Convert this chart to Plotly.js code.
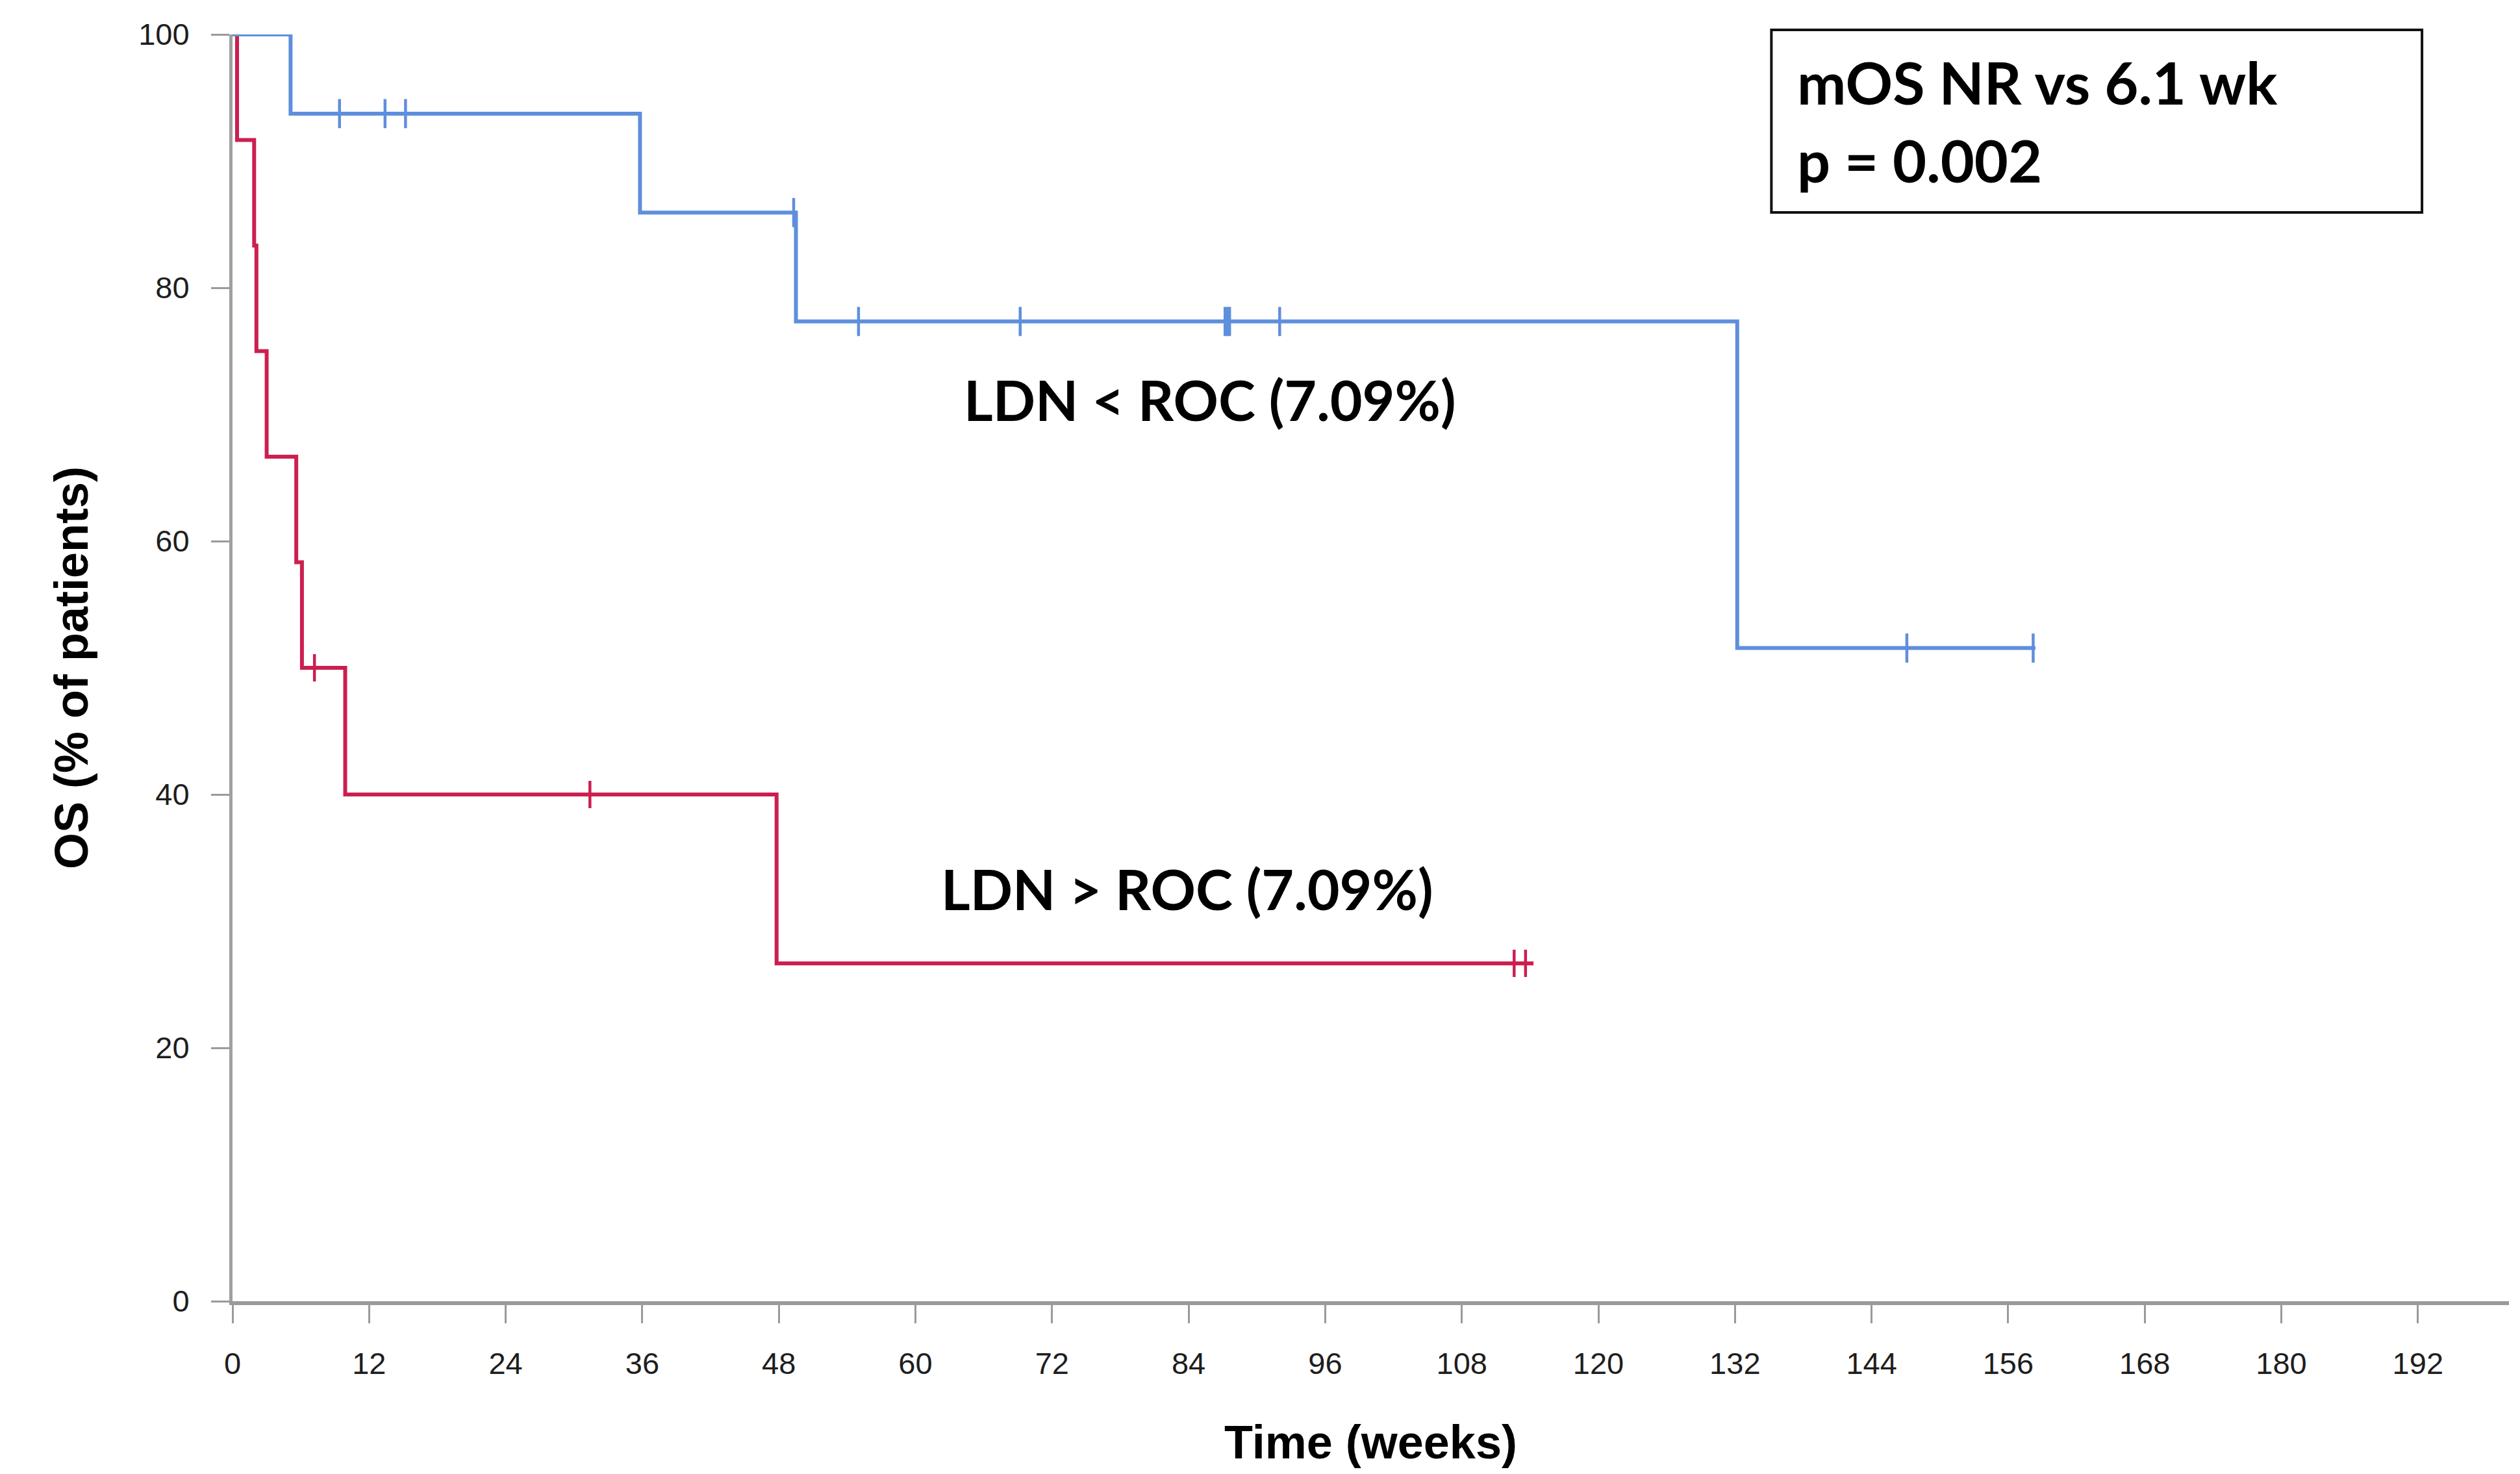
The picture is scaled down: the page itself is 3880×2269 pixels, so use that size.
<!DOCTYPE html>
<html>
<head>
<meta charset="utf-8">
<script src="https://cdn.plot.ly/plotly-3.0.1.min.js"></script>
<style>html,body{margin:0;padding:0;background:#fff;}#chart{width:3880px;height:2269px;}</style>
</head>
<body>
<div id="chart"></div>
<script>
// Kaplan-Meier step points (time in weeks, OS in %)
const blueTimes = [0, 5.1, 35.8, 49.5, 132.2, 158.4];
const blueSurv  = [100, 93.75, 85.94, 77.34, 51.56, 51.56];
const blueCensorTimes = [9.4, 13.4, 15.2, 49.3, 55.0, 69.2, 87.2, 87.4, 87.6, 92.0, 147.1, 158.2];
const blueCensorSurv  = [93.75, 93.75, 93.75, 85.94, 77.34, 77.34, 77.34, 77.34, 77.34, 77.34, 51.56, 51.56];

const redTimes = [0, 0.4, 1.9, 2.1, 3.0, 5.6, 6.1, 9.9, 47.8, 114.3];
const redSurv  = [100, 91.67, 83.33, 75.0, 66.67, 58.33, 50.0, 40.0, 26.67, 26.67];
const redCensorTimes = [7.2, 31.4, 112.6, 113.6];
const redCensorSurv  = [50.0, 40.0, 26.67, 26.67];

const xTickVals = [0, 12, 24, 36, 48, 60, 72, 84, 96, 108, 120, 132, 144, 156, 168, 180, 192];
const yTickVals = [0, 20, 40, 60, 80, 100];

const groupLabels = ['LDN < ROC (7.09%)', 'LDN > ROC (7.09%)'];
const statLines = ['mOS NR vs 6.1 wk', 'p = 0.002'];

const blueColor = '#5f8fdc';
const redColor = '#cc1f4f';

const traces = [
  {x: redTimes, y: redSurv, type: 'scatter', mode: 'lines', line: {shape: 'hv', color: redColor, width: 6}, cliponaxis: false, hoverinfo: 'skip'},
  {x: blueTimes, y: blueSurv, type: 'scatter', mode: 'lines', line: {shape: 'hv', color: blueColor, width: 6}, cliponaxis: false, hoverinfo: 'skip'},
  {x: blueCensorTimes, y: blueCensorSurv, type: 'scatter', mode: 'markers', marker: {symbol: 'line-ns', size: 32, line: {color: blueColor, width: 4.5}}, cliponaxis: false},
  {x: redCensorTimes, y: redCensorSurv, type: 'scatter', mode: 'markers', marker: {symbol: 'line-ns', size: 30, line: {color: redColor, width: 4.5}}, cliponaxis: false}
];

const axisFont = {family: 'Liberation Sans, Arial, sans-serif', size: 47, color: '#1e1e1e'};
const titleFont = {family: 'Liberation Sans, Arial, sans-serif', size: 72, color: '#000', weight: 'bold'};
const noteFont = {family: 'Lato, Open Sans, sans-serif', size: 86, color: '#000', weight: 'bold'};
const boxFont = {family: 'Lato, Open Sans, sans-serif', size: 90, color: '#000', weight: 'bold'};

const layout = {
  width: 3880, height: 2269,
  margin: {l: 358, r: 17, t: 53, b: 266},
  paper_bgcolor: '#fff', plot_bgcolor: '#fff',
  showlegend: false,
  xaxis: {
    range: [0, 200], tickvals: xTickVals, ticktext: xTickVals.map(String),
    showgrid: false, zeroline: false, showline: true, linecolor: '#9a9a9a', linewidth: 6,
    ticks: 'outside', ticklen: 28, tickwidth: 3, tickcolor: '#9a9a9a',
    tickfont: axisFont, ticklabelstandoff: 22,
    title: {text: 'Time (weeks)', font: titleFont, standoff: 72}
  },
  yaxis: {
    range: [0, 100], tickvals: yTickVals, ticktext: yTickVals.map(String),
    showgrid: false, zeroline: false, showline: true, linecolor: '#a0a0a0', linewidth: 5,
    ticks: 'outside', ticklen: 28, tickwidth: 3, tickcolor: '#9a9a9a',
    tickfont: axisFont, ticklabelstandoff: 24,
    title: {text: 'OS (% of patients)', font: titleFont, standoff: 55}
  },
  shapes: [
    {type: 'rect', xref: 'paper', yref: 'paper', x0: 0.676, x1: 0.9618, y0: 0.8595, y1: 1.0036,
     line: {color: '#111', width: 4}, fillcolor: 'rgba(0,0,0,0)'}
  ],
  annotations: [
    {x: 85.9, y: 71.2, xref: 'x', yref: 'y', text: groupLabels[0], showarrow: false, font: noteFont, xanchor: 'center', yanchor: 'middle'},
    {x: 83.9, y: 32.6, xref: 'x', yref: 'y', text: groupLabels[1], showarrow: false, font: noteFont, xanchor: 'center', yanchor: 'middle'},
    {x: 0.6866, y: 0.9625, xref: 'paper', yref: 'paper', text: statLines[0], showarrow: false, font: boxFont, xanchor: 'left', yanchor: 'middle'},
    {x: 0.6866, y: 0.9010, xref: 'paper', yref: 'paper', text: statLines[1], showarrow: false, font: boxFont, xanchor: 'left', yanchor: 'middle'}
  ]
};

Plotly.newPlot('chart', traces, layout, {displayModeBar: false, staticPlot: true});
</script>
</body>
</html>
